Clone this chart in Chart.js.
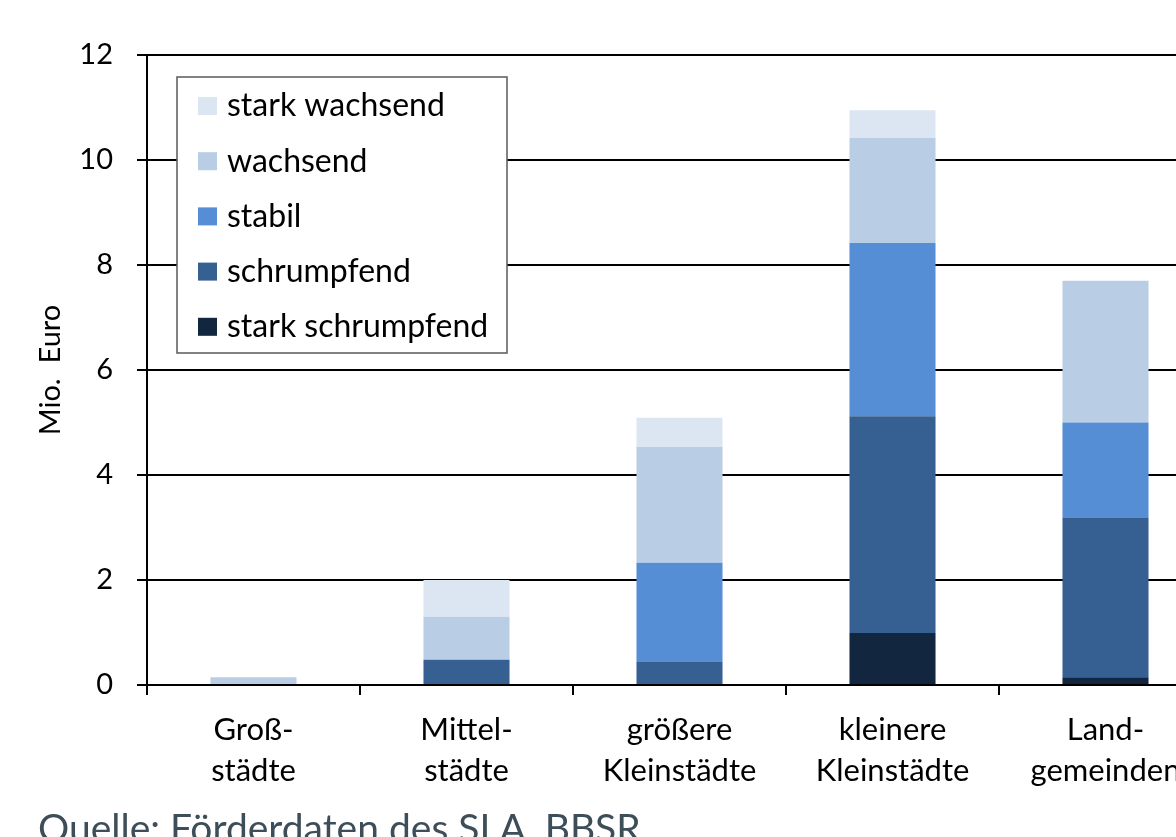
<!DOCTYPE html>
<html lang="de">
<head>
    <meta charset="UTF-8">
    <title>Fördermittel nach Stadt- und Gemeindetyp</title>
    <script src="https://cdn.jsdelivr.net/npm/chart.js"></script>
    <style>
      html, body { margin: 0; padding: 0; background: #fff; overflow: hidden; }
      #wrap { position: relative; width: 1176px; height: 837px; overflow: hidden; }
      #source {
        position: absolute; left: 38px; top: 804px; margin: 0;
        font-family: Lato, sans-serif; font-size: 39px; color: #3d4e58; white-space: nowrap;
      }
    </style>
</head>
<body>
    <div id="wrap">
      <canvas id="chart" width="1212" height="837"></canvas>
      <p id="source">Quelle: Förderdaten des SLA, BBSR</p>
    </div>

    <script>
      // categories (Stadt- und Gemeindetyp)
      const categories = [
        ['Groß-', 'städte'],
        ['Mittel-', 'städte'],
        ['größere', 'Kleinstädte'],
        ['kleinere', 'Kleinstädte'],
        ['Land-', 'gemeinden']
      ];

      // values in Mio. Euro
      const starkSchrumpfend = [0, 0, 0, 0.99, 0.15];
      const schrumpfend      = [0, 0.48, 0.44, 4.13, 3.03];
      const stabil           = [0, 0, 1.89, 3.30, 1.82];
      const wachsend         = [0.15, 0.82, 2.21, 2.00, 2.70];
      const starkWachsend    = [0, 0.70, 0.55, 0.53, 0];

      const yTicks = [0, 2, 4, 6, 8, 10, 12];

      const fontFamily = 'Lato, sans-serif';

      // legend box inside the plot, entries top-down in reverse stack order
      const boxLegend = {
        id: 'boxLegend',
        afterDatasetsDraw(chart) {
          const ctx = chart.ctx;
          const x = 177, y = 77, w = 330, h = 276;
          ctx.save();
          ctx.fillStyle = '#fff';
          ctx.fillRect(x, y, w, h);
          ctx.strokeStyle = '#595959';
          ctx.lineWidth = 1.5;
          ctx.strokeRect(x, y, w, h);
          ctx.font = '32px ' + fontFamily;
          ctx.textBaseline = 'middle';
          const items = chart.data.datasets.slice().reverse();
          items.forEach((ds, i) => {
            const cy = 106 + i * 55.2;
            ctx.fillStyle = ds.backgroundColor;
            ctx.fillRect(198, cy - 9, 19, 18);
            ctx.fillStyle = '#000';
            ctx.fillText(ds.label, 227, cy);
          });
          ctx.restore();
        }
      };

      new Chart(document.getElementById('chart'), {
        type: 'bar',
        data: {
          labels: categories,
          datasets: [
            { label: 'stark schrumpfend', data: starkSchrumpfend, backgroundColor: '#13263f' },
            { label: 'schrumpfend', data: schrumpfend, backgroundColor: '#376092' },
            { label: 'stabil', data: stabil, backgroundColor: '#558ed5' },
            { label: 'wachsend', data: wachsend, backgroundColor: '#b9cde5' },
            { label: 'stark wachsend', data: starkWachsend, backgroundColor: '#dce6f2' }
          ]
        },
        options: {
          responsive: false,
          animation: false,
          barPercentage: 0.404,
          categoryPercentage: 1,
          layout: { padding: { top: 55, left: 0, right: 0, bottom: 0 } },
          plugins: {
            legend: { display: false },
            tooltip: { enabled: false }
          },
          scales: {
            x: {
              stacked: true,
              afterFit: (scale) => { scale.height = 152; },
              grid: {
                offset: true,
                drawOnChartArea: false,
                color: '#000',
                lineWidth: 2,
                tickLength: 10
              },
              border: { color: '#000', width: 2 },
              ticks: {
                color: '#000',
                padding: 15,
                maxRotation: 0,
                font: { family: fontFamily, size: 31, lineHeight: 1.32 }
              }
            },
            y: {
              stacked: true,
              min: 0,
              max: 12,
              afterFit: (scale) => { scale.width = 147; },
              afterBuildTicks: (scale) => { scale.ticks = yTicks.map(v => ({ value: v })); },
              grid: {
                color: '#000',
                lineWidth: 2,
                tickLength: 10
              },
              border: { color: '#000', width: 2 },
              ticks: {
                color: '#000',
                padding: 24,
                font: { family: fontFamily, size: 29 }
              },
              title: {
                display: true,
                text: 'Mio.  Euro',
                color: '#000',
                padding: { top: 33, bottom: 0 },
                font: { family: fontFamily, size: 29 }
              }
            }
          }
        },
        plugins: [boxLegend]
      });
    </script>
</body>
</html>
